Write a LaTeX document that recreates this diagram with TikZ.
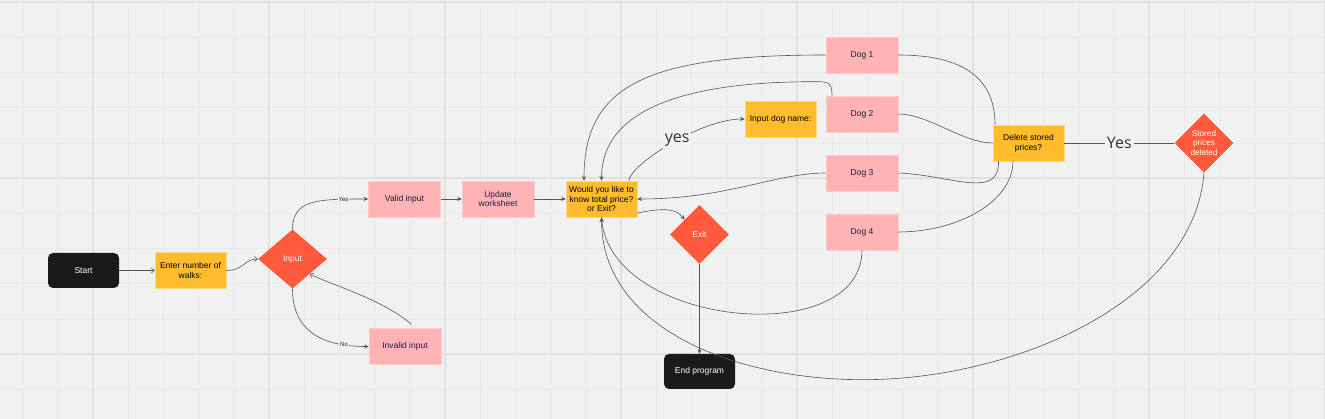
\documentclass[tikz,border=0pt]{standalone}
\usepackage{fontspec}
\setmainfont{Liberation Sans}
\newfontfamily\yesfont{Open Sans}
\usetikzlibrary{shapes.geometric, arrows, arrows.meta}

\definecolor{bgGray}{HTML}{F1F1F1}
\definecolor{minorLine}{HTML}{E9E9E9}
\definecolor{majorLine}{HTML}{E0E0E0}
\definecolor{termBlack}{HTML}{1A1A1A}
\definecolor{stepYellow}{HTML}{FFBD2E}
\definecolor{optPink}{HTML}{FFB3B5}
\definecolor{decRed}{HTML}{FF5A3C}
\definecolor{lineGray}{HTML}{555555}
\definecolor{textNavy}{HTML}{1C1B3F}

\newcommand{\boxfont}{\fontsize{8.5}{9.7}\selectfont}

\tikzstyle{terminal} = [rectangle, rounded corners=5pt, minimum width=71pt, minimum height=35pt, fill=termBlack, text=white, align=center]
\tikzstyle{process} = [rectangle, minimum width=71pt, minimum height=36pt, inner sep=1pt, fill=stepYellow, draw=stepYellow!60!white, line width=0.6pt, text=black, align=center]
\tikzstyle{option} = [rectangle, minimum width=72pt, minimum height=36pt, inner sep=1pt, fill=optPink, draw=optPink!70!white, line width=0.6pt, text=textNavy, align=center]
\tikzstyle{decision} = [diamond, minimum width=59pt, minimum height=59pt, inner sep=0pt, fill=decRed, text=white, align=center]
\tikzstyle{arrow} = [line width=0.6pt, draw=lineGray, ->, >={Stealth[length=4.5pt,width=4pt]}]
\tikzstyle{openArrow} = [line width=0.6pt, draw=lineGray, ->, >={Straight Barb[length=3pt,width=5pt]}]
\tikzstyle{link} = [line width=0.6pt, draw=lineGray]
\tikzstyle{edgeLabel} = [fill=bgGray, inner sep=1pt, text=textNavy, font=\fontsize{6}{7}\selectfont]
\tikzstyle{bigLabel} = [fill=bgGray, inner sep=2pt, text=black!80, font=\yesfont\fontsize{16}{18}\selectfont]
\tikzstyle{minorGrid} = [draw=minorLine, line width=0.5pt]
\tikzstyle{majorGrid} = [draw=majorLine, line width=1.2pt]

\begin{document}
\begin{tikzpicture}[x=1pt, y=-1pt, node distance=59pt, font=\boxfont]

    % canvas and grid
    \fill[bgGray] (0,0) rectangle (1325,419);
    \useasboundingbox (0,0) rectangle (1325,419);
    \foreach \gx in {0,...,37}
        \draw[minorGrid] ({22.6+35.2*\gx},0) -- ({22.6+35.2*\gx},419);
    \foreach \gy in {0,...,11}
        \draw[minorGrid] (0,{2+35.2*\gy}) -- (1325,{2+35.2*\gy});
    \foreach \gx in {93,269,...,1325}
        \draw[majorGrid] (\gx,0) -- (\gx,419);
    \foreach \gy in {2,178,354}
        \draw[majorGrid] (0,\gy) -- (1325,\gy);

    \node (start) [terminal] at (83.5,270.5) {Start};
    \node (walks) [process, right of=start, xshift=48pt] {Enter number of\\walks:};
    \node (input) [decision, minimum width=69pt, right of=walks, xshift=43pt, yshift=11.5pt] {Input};
    \node (valid) [option, right of=input, xshift=53pt, yshift=60pt] {Valid input};
    \node (invalid) [option, right of=input, xshift=53.5pt, yshift=-87.5pt] {Invalid input};
    \node (update) [option, right of=valid, xshift=34.5pt] {Update\\worksheet};
    \node (choice) [process, right of=update, xshift=44.5pt] {Would you like to\\know total price?\\or Exit?};
    \node (exitNode) [decision, right of=choice, xshift=39pt, yshift=-35.5pt] {Exit};
    \node (endProgram) [terminal, below of=exitNode, yshift=-78pt] {End program};
    \node (dogName) [process, right of=choice, xshift=120pt, yshift=80pt] {Input dog name:};

    \node (dog1) [option] at (862,55) {Dog 1};
    \node (dog2) [option, below of=dog1] {Dog 2};
    \node (dog3) [option, below of=dog2] {Dog 3};
    \node (dog4) [option, below of=dog3] {Dog 4};

    \node (delete) [process, right of=dog2, xshift=107.5pt, yshift=-29pt] {Delete stored\\prices?};
    \node (stored) [decision, right of=delete, xshift=116.5pt, font=\fontsize{8.2}{9.5}\selectfont] {Stored\\prices\\deleted};

    \draw[openArrow] (start) -- (walks);
    \draw[openArrow] (walks.east) .. controls +(18,0) and +(-14,0) .. (input.west);
    \draw[arrow] (input.north) .. controls +(0,-30) and +(-50,0) .. (valid.west) node[edgeLabel, pos=0.82] {Yes};
    \draw[arrow] (input.south) .. controls +(0,40) and +(-50,0) .. (invalid.west) node[edgeLabel, pos=0.82] {No};
    \draw[openArrow, shorten <=6pt] ([xshift=11pt]invalid.north) .. controls +(-35,-30) and +(18,10) .. (input.south east);

    \draw[arrow] (valid) -- (update);
    \draw[arrow] (update) -- (choice);

    \draw[arrow] ([xshift=27.5pt]choice.north) .. controls +(0,-15) and +(-45,0) .. (dogName.west) node[bigLabel, pos=0.55] {yes};
    \draw[arrow] (dog1.west) .. controls +(-180,0) and +(0,-95) .. ([xshift=-17.5pt]choice.north);
    \draw[arrow] ([xshift=-30pt]dog2.north) .. controls +(0,-14) and +(14,0) .. ++(-18,-14)
        .. controls +(-120,0) and +(0,-75) .. (choice.north);
    \draw[arrow] (dog3.west) .. controls +(-50,0) and +(90,0) .. (choice.east);
    \draw[arrow] (dog4.south) .. controls +(0,100) and +(10,110) .. (choice.south);
    \draw[arrow] (stored.south) .. controls +(-10,130) and +(150,0) .. ++(-341,207)
        .. controls +(-130,0) and +(0,110) .. (choice.south);

    \draw[arrow] ([yshift=-14pt]choice.east) .. controls +(30,-6) and +(-8,-10) .. (exitNode.north west);
    \draw[arrow] (exitNode) -- (endProgram);

    \draw[link] (dog1.east) .. controls +(60,0) and +(0,-50) .. ([xshift=-33.5pt]delete.north);
    \draw[link] (dog2.east) .. controls +(30,0) and +(-30,0) .. (delete.west);
    \draw[link] (dog3.east) .. controls +(52,2) and +(1,39) .. ([xshift=-30pt]delete.south);
    \draw[link] (dog4.east) .. controls +(60,0) and +(0,40) .. ([xshift=-15.5pt]delete.south);
    \draw[link] (delete) -- node[bigLabel] {Yes} (stored);

\end{tikzpicture}
\end{document}
